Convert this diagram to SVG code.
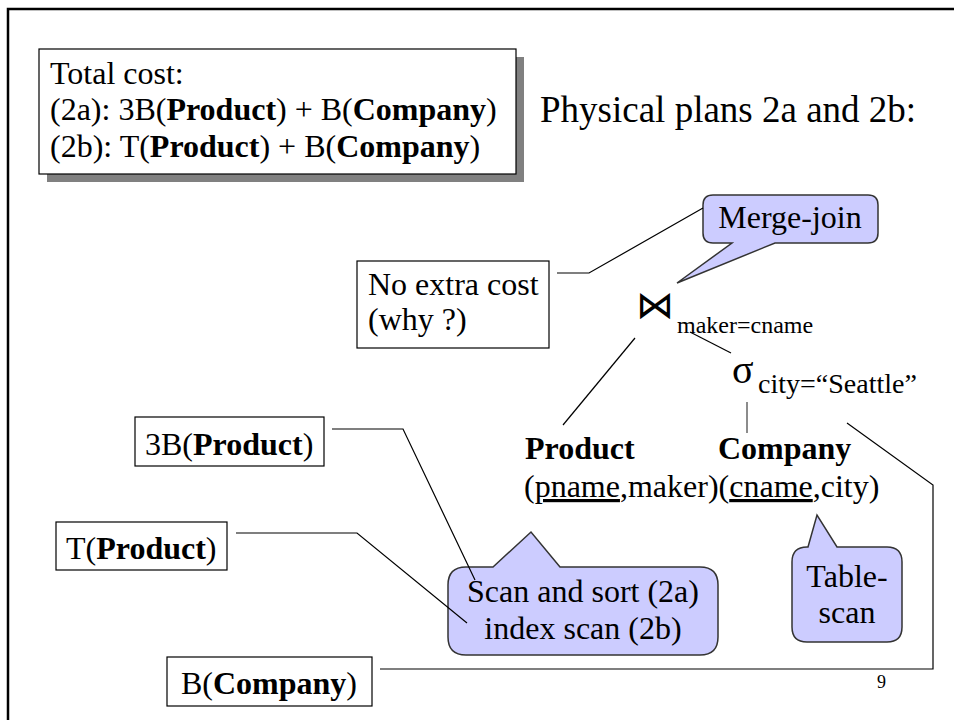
<svg xmlns="http://www.w3.org/2000/svg" width="954" height="720" viewBox="0 0 954 720">
<style>
text{font-family:"Liberation Serif","Times New Roman",serif;fill:#000}
.t32{font-size:32px}
.b{font-weight:bold}
.box{fill:#fff;stroke:#000;stroke-width:1.2}
.call{fill:#ccccff;stroke:#333;stroke-width:1.5}
.ln{fill:none;stroke:#000;stroke-width:1.2}
.u{text-decoration:underline}
</style>
<rect width="954" height="720" fill="#fff"/>
<rect x="8" y="9" width="1000" height="1000" fill="none" stroke="#000" stroke-width="2.5"/>

<g id="total-cost">
<rect x="47" y="57" width="477" height="125" fill="#808080"/>
<rect class="box" x="39" y="49" width="477" height="125"/>
<text class="t32" x="50" y="84">Total cost:</text>
<text class="t32" x="50" y="120">(2a): 3B(<tspan class="b">Product</tspan>) + B(<tspan class="b">Company</tspan>)</text>
<text class="t32" x="50" y="157">(2b): T(<tspan class="b">Product</tspan>) + B(<tspan class="b">Company</tspan>)</text>
</g>

<g id="title">
<text x="540" y="122" font-size="37">Physical plans 2a and 2b:</text>
</g>

<g id="merge-join">
<path class="call" d="M713,195 H868 Q878,195 878,205 V233 Q878,243 868,243 H775 L677,283 L732,243 H713 Q703,243 703,233 V205 Q703,195 713,195 Z"/>
<text class="t32" x="790" y="228" text-anchor="middle">Merge-join</text>
</g>

<g id="no-extra-cost">
<rect class="box" x="357" y="261" width="192" height="87"/>
<text class="t32" x="368" y="295">No extra cost</text>
<text class="t32" x="368" y="330">(why ?)</text>
</g>

<g id="join">
<text x="636" y="318" font-family="DejaVu Sans, sans-serif" font-size="38">⋈</text>
<text x="677" y="333" font-size="24">maker=cname</text>
</g>

<g id="select">
<text x="732" y="383" font-size="40">σ</text>
<text x="758" y="393" font-size="28">city=“Seattle”</text>
</g>

<g id="product">
<text class="t32 b" x="525" y="459">Product</text>
</g>

<g id="company">
<text class="t32 b" x="718" y="459">Company</text>
</g>

<g id="schema">
<text class="t32" x="524" y="497">(<tspan class="u">pname</tspan>,maker)(<tspan class="u">cname</tspan>,city)</text>
</g>

<g id="scan-callout">
<path class="call" d="M466,567 H493 L531,532 L560,567 H700 Q718,567 718,585 V637 Q718,655 700,655 H466 Q448,655 448,637 V585 Q448,567 466,567 Z"/>
<text class="t32" x="583" y="602" text-anchor="middle">Scan and sort (2a)</text>
<text class="t32" x="583" y="639" text-anchor="middle">index scan (2b)</text>
</g>

<g id="table-scan">
<path class="call" d="M807,547 H808 L817,515 L837,547 H887 Q902,547 902,562 V627 Q902,642 887,642 H807 Q792,642 792,627 V562 Q792,547 807,547 Z"/>
<text class="t32" x="847" y="587" text-anchor="middle">Table-</text>
<text class="t32" x="847" y="623" text-anchor="middle">scan</text>
</g>

<g id="cost-3b">
<rect class="box" x="135" y="417" width="189" height="49"/>
<text class="t32" x="145" y="455">3B(<tspan class="b">Product</tspan>)</text>
</g>

<g id="cost-t">
<rect class="box" x="56" y="522" width="171" height="48"/>
<text class="t32" x="66" y="559">T(<tspan class="b">Product</tspan>)</text>
</g>

<g id="cost-b">
<rect class="box" x="167" y="657" width="205" height="49"/>
<text class="t32" x="181" y="694">B(<tspan class="b">Company</tspan>)</text>
</g>

<g id="page-number">
<text x="877" y="688" font-size="18">9</text>
</g>

<g id="connectors">
<polyline class="ln" points="557,273 589,273 703,208"/>
<line class="ln" x1="635" y1="338" x2="563" y2="425"/>
<line class="ln" x1="690" y1="332" x2="731" y2="353"/>
<line x1="747" y1="402" x2="747" y2="433" stroke="#666" stroke-width="1.5"/>
<polyline class="ln" points="847,423 933,485 933,669 380,669"/>
<polyline class="ln" points="332,429 403,429 475,580"/>
<polyline class="ln" points="236,533 357,533 467,623"/>
</g>
</svg>
